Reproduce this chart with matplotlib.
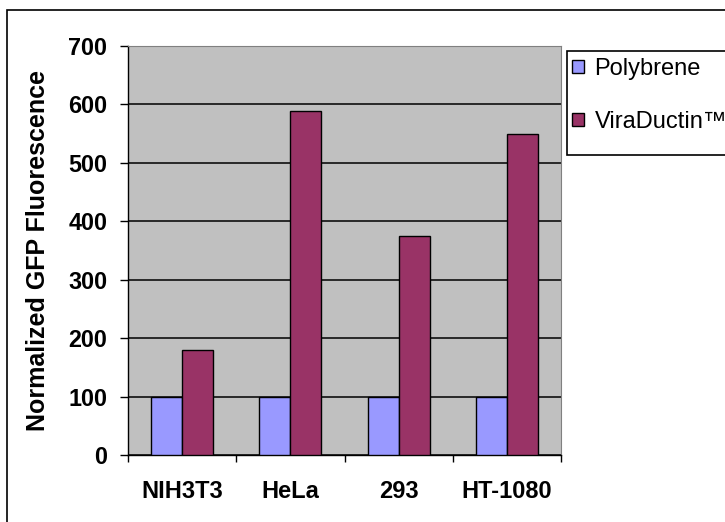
import numpy as np
import matplotlib
matplotlib.use('Agg')
import matplotlib.pyplot as plt
from matplotlib.patches import Rectangle, Patch

# data
cell_lines = ['NIH3T3', 'HeLa', '293', 'HT-1080']
polybrene = [100, 100, 100, 100]
viraductin = [180, 588, 375, 549]
series_names = ['Polybrene', 'ViraDuctin\u2122']
y_ticks = [0, 100, 200, 300, 400, 500, 600, 700]

plt.rcParams['font.family'] = ['Liberation Sans', 'DejaVu Sans']

fig = plt.figure(figsize=(7.25, 5.22), dpi=100)
ax = fig.add_axes([128 / 725, 1 - 455 / 522, 433 / 725, 409 / 522])
ax.set_facecolor('#C0C0C0')

x = np.arange(len(cell_lines))
w = 1 / 3.5
ax.bar(x - w / 2, polybrene, w, color='#9999FF', edgecolor='black',
       linewidth=1.0, zorder=3)
ax.bar(x + w / 2, viraductin, w, color='#993366', edgecolor='black',
       linewidth=1.0, zorder=3)

ax.set_xlim(-0.5, len(cell_lines) - 0.5)
ax.set_ylim(0, 700)
ax.set_yticks(y_ticks)
ax.yaxis.grid(True, color='black', linewidth=1.1, zorder=1)
ax.set_axisbelow(True)

# category boundaries get the ticks, labels sit in between
ax.set_xticks(np.arange(len(cell_lines) + 1) - 0.5)
ax.set_xticklabels([])
ax.set_xticks(x, minor=True)
ax.set_xticklabels(cell_lines, minor=True, fontweight='bold', fontsize=17)
ax.tick_params(axis='x', which='major', direction='out', length=5,
               width=1.0)
ax.tick_params(axis='x', which='minor', length=0, pad=18)
ax.tick_params(axis='y', direction='out', length=6, width=1.0, pad=9,
               labelsize=16.8)
for lab in ax.get_yticklabels():
    lab.set_fontweight('bold')

for s in ['left', 'bottom']:
    ax.spines[s].set_color('black')
    ax.spines[s].set_linewidth(1.0)
ax.spines['right'].set_color('#808080')
ax.spines['top'].set_color('#808080')

ax.set_ylabel('Normalized GFP Fluorescence', fontweight='bold',
              fontsize=18)
ax.yaxis.set_label_coords(-0.18, 0.5)

# outer chart frame (runs off the right/bottom edge)
fig.add_artist(Rectangle((7 / 725, -0.1), 1.2, 1 - 9.5 / 522 + 0.1,
                         transform=fig.transFigure, fill=False,
                         edgecolor='black', linewidth=1.2))

# legend box, also cut off by the right edge as in the original
fig.add_artist(Rectangle((567 / 725, 1 - 155 / 522), 0.5, 104 / 522,
                         transform=fig.transFigure, facecolor='white',
                         edgecolor='black', linewidth=1.2))
handles = [Patch(facecolor='#9999FF', edgecolor='black', linewidth=1.0),
           Patch(facecolor='#993366', edgecolor='black', linewidth=1.0)]
leg = fig.legend(handles, series_names, loc='upper left',
                 bbox_to_anchor=(572 / 725, 1 - 58 / 522), fontsize=17,
                 frameon=False, handlelength=0.5, handleheight=0.5,
                 handletextpad=0.45, labelspacing=1.3, borderpad=0,
                 borderaxespad=0)

fig.savefig('out.png', dpi=100)
